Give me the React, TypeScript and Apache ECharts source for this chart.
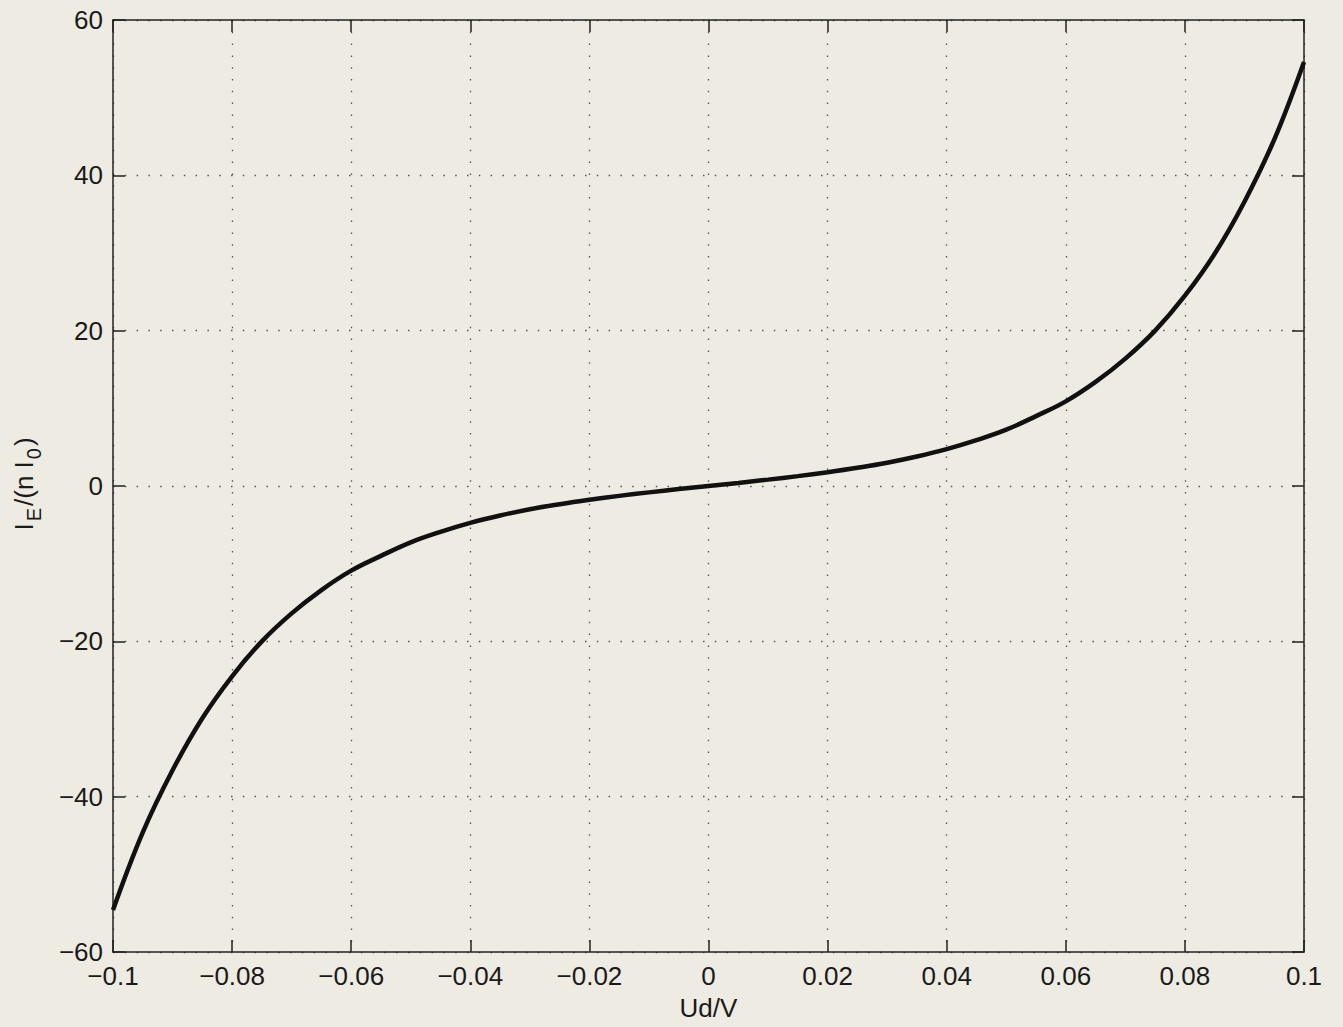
import React, { useEffect, useRef } from "react";
import * as echarts from "echarts";

// Ud/V values (x) and I_E/(n I_0) values (y)
const udValues = [
  -0.1, -0.095, -0.09, -0.085, -0.08, -0.075, -0.07, -0.065, -0.06, -0.055,
  -0.05, -0.045, -0.04, -0.035, -0.03, -0.025, -0.02, -0.015, -0.01, -0.005,
  0, 0.005, 0.01, 0.015, 0.02, 0.025, 0.03, 0.035, 0.04, 0.045,
  0.05, 0.055, 0.06, 0.065, 0.07, 0.075, 0.08, 0.085, 0.09, 0.095, 0.1,
];
const currentValues = [
  -54.6, -44.6, -36.6, -29.9, -24.5, -20.0, -16.4, -13.4, -10.9, -9.0,
  -7.25, -5.9, -4.75, -3.8, -3.0, -2.35, -1.78, -1.27, -0.82, -0.4,
  0, 0.4, 0.82, 1.27, 1.78, 2.35, 3.0, 3.8, 4.75, 5.9,
  7.25, 9.0, 10.9, 13.4, 16.4, 20.0, 24.5, 29.9, 36.6, 44.6, 54.6,
];

const xMin = -0.1;
const xMax = 0.1;
const xStep = 0.02;
const yMin = -60;
const yMax = 60;
const yStep = 20;

const FONT = "'Liberation Sans', Arial, Helvetica, sans-serif";
const BG = "#eeebe2";
const INK = "#1a1a1a";

function fmt(v: number): string {
  const r = Math.round(v * 1000) / 1000;
  return String(r).replace("-", "\u2212");
}

export default function App() {
  const ref = useRef<HTMLDivElement>(null);

  useEffect(() => {
    if (!ref.current) return;
    const chart = echarts.init(ref.current, undefined, { renderer: "svg" });
    const data = udValues.map((x, i) => [x, currentValues[i]]);
    const gridLine = {
      show: true,
      lineStyle: { color: "#555", width: 1.3, type: [1.5, 10.3] as any },
    };
    const axisLine = { show: true, onZero: false, lineStyle: { color: "#222", width: 1.5 } };
    const axisTick = { show: true, inside: true, length: 12, lineStyle: { color: "#222", width: 1.5 } };
    chart.setOption({
      animation: false,
      backgroundColor: BG,
      grid: { left: 113, top: 20, right: 39, bottom: 75, containLabel: false },
      xAxis: [
        {
          type: "value",
          min: xMin,
          max: xMax,
          interval: xStep,
          position: "bottom",
          axisLine,
          axisTick,
          splitLine: gridLine,
          axisLabel: {
            formatter: fmt,
            fontFamily: FONT,
            fontSize: 26,
            color: INK,
            margin: 11,
            showMinLabel: true,
            showMaxLabel: true,
          },
          name: "Ud/V",
          nameLocation: "middle",
          nameGap: 43,
          nameTextStyle: { fontFamily: FONT, fontSize: 26, color: INK },
        },
        {
          type: "value",
          min: xMin,
          max: xMax,
          interval: xStep,
          position: "top",
          axisLine,
          axisTick,
          splitLine: { show: false },
          axisLabel: { show: false },
        },
      ],
      yAxis: [
        {
          type: "value",
          min: yMin,
          max: yMax,
          interval: yStep,
          position: "left",
          axisLine,
          axisTick,
          splitLine: gridLine,
          axisLabel: {
            formatter: fmt,
            fontFamily: FONT,
            fontSize: 26,
            color: INK,
            margin: 10,
            showMinLabel: true,
            showMaxLabel: true,
          },
        },
        {
          type: "value",
          min: yMin,
          max: yMax,
          interval: yStep,
          position: "right",
          axisLine,
          axisTick,
          splitLine: { show: false },
          axisLabel: { show: false },
        },
      ],
      graphic: [
        {
          type: "text",
          x: 34,
          y: 484,
          rotation: Math.PI / 2,
          style: {
            text: "{m|I}{s|E}{m|/(n I}{s|0}{m|)}",
            align: "center",
            verticalAlign: "middle",
            fill: INK,
            rich: {
              m: { fontFamily: FONT, fontSize: 26, lineHeight: 26, verticalAlign: "top", fill: INK },
              s: { fontFamily: FONT, fontSize: 20, lineHeight: 46, padding: [0, 2, 0, 2], fill: INK },
            },
          },
        },
      ],
      series: [
        {
          type: "line",
          data,
          smooth: 0.4,
          showSymbol: false,
          lineStyle: { color: "#111", width: 4.5 },
          xAxisIndex: 0,
          yAxisIndex: 0,
        },
      ],
    });
    return () => chart.dispose();
  }, []);

  return (
    <div
      ref={ref}
      style={{ position: "absolute", left: 0, top: 0, width: 1343, height: 1027, background: BG }}
    />
  );
}
